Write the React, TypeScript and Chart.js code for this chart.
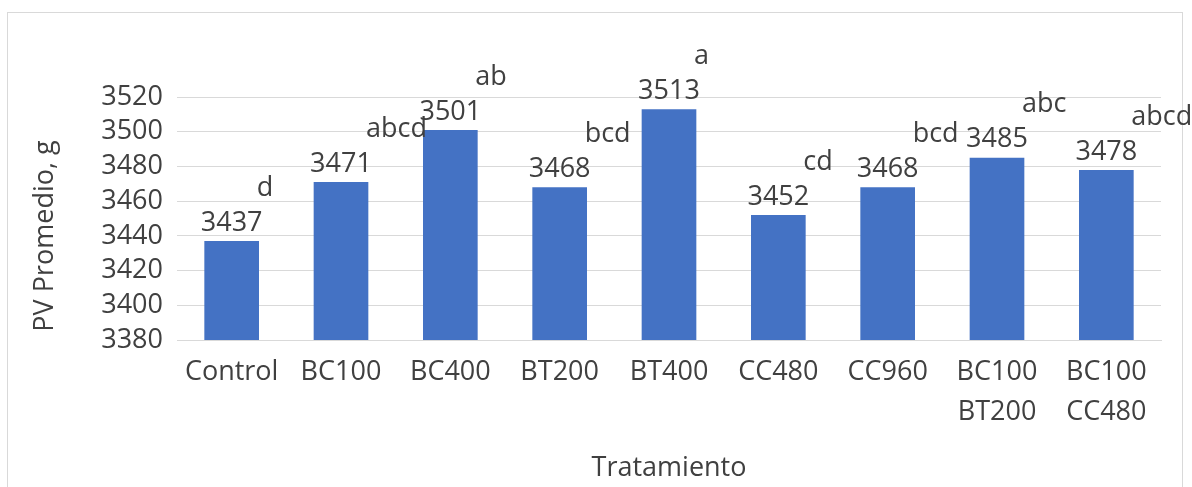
import React, { useEffect, useRef } from "react";
import { Chart, registerables } from "chart.js";

Chart.register(...registerables);

const categories: (string | string[])[] = [
  "Control",
  "BC100",
  "BC400",
  "BT200",
  "BT400",
  "CC480",
  "CC960",
  ["BC100", "BT200"],
  ["BC100", "CC480"],
];
const values: number[] = [3437, 3471, 3501, 3468, 3513, 3452, 3468, 3485, 3478];
const letters: string[] = ["d", "abcd", "ab", "bcd", "a", "cd", "bcd", "abc", "abcd"];
const yTickLabels: number[] = [3380, 3400, 3420, 3440, 3460, 3480, 3500, 3520];
const yTitle = "PV Promedio, g";
const xTitle = "Tratamiento";

const FONT = "'Open Sans', sans-serif";
const TEXT = "#404040";
const BAR = "#4472C4";
const GRID = "#d9d9d9";

const decorPlugin = {
  id: "decor",
  beforeDraw(chart: any) {
    const ctx = chart.ctx;
    ctx.save();
    ctx.fillStyle = "#ffffff";
    ctx.fillRect(0, 0, chart.width, chart.height);
    ctx.strokeStyle = GRID;
    ctx.lineWidth = 1;
    ctx.strokeRect(7.5, 12.5, 1175, 600);
    ctx.restore();
  },
  afterDatasetsDraw(chart: any) {
    const ctx = chart.ctx;
    const meta = chart.getDatasetMeta(0);
    ctx.save();
    ctx.fillStyle = TEXT;
    ctx.font = `27px ${FONT}`;
    ctx.textBaseline = "middle";
    meta.data.forEach((bar: any, i: number) => {
      ctx.textAlign = "center";
      ctx.fillText(String(values[i]), bar.x, bar.y - 18);
      ctx.textAlign = "left";
      ctx.fillText(letters[i], bar.x + 25, bar.y - 53);
    });
    const ca = chart.chartArea;
    ctx.textAlign = "center";
    ctx.fillText(xTitle, (ca.left + ca.right) / 2, 468);
    ctx.translate(45, 236);
    ctx.rotate(-Math.PI / 2);
    ctx.fillText(yTitle, 0, 0);
    ctx.restore();
  },
};

export default function App() {
  const ref = useRef<HTMLCanvasElement>(null);
  useEffect(() => {
    document.body.style.margin = "0";
    const chart = new Chart(ref.current as HTMLCanvasElement, {
      type: "bar",
      data: {
        labels: categories,
        datasets: [
          {
            data: values,
            backgroundColor: BAR,
            borderWidth: 0,
            barPercentage: 0.5,
            categoryPercentage: 1,
          },
        ],
      },
      options: {
        animation: false,
        responsive: false,
        devicePixelRatio: 1,
        layout: { padding: { top: 97, right: 31, bottom: 0, left: 0 } },
        plugins: {
          legend: { display: false },
          tooltip: { enabled: false },
          title: { display: false },
        },
        scales: {
          x: {
            afterFit(scale: any) {
              scale.height = 147;
            },
            grid: { display: false, drawTicks: false },
            border: { display: true, color: GRID, width: 1 },
            ticks: {
              color: TEXT,
              font: { family: FONT, size: 27, lineHeight: 1.5 },
              padding: 12,
              maxRotation: 0,
              autoSkip: false,
            },
          },
          y: {
            min: yTickLabels[0],
            max: yTickLabels[yTickLabels.length - 1],
            afterFit(scale: any) {
              scale.width = 177;
            },
            afterBuildTicks(scale: any) {
              scale.ticks = yTickLabels.map((v) => ({ value: v }));
            },
            grid: { color: GRID, lineWidth: 1, drawTicks: false },
            border: { display: false },
            ticks: {
              autoSkip: false,
              color: TEXT,
              font: { family: FONT, size: 27 },
              padding: 14,
              callback: (v: any) => String(v),
            },
          },
        },
      },
      plugins: [decorPlugin],
    });
    return () => chart.destroy();
  }, []);
  return (
    <div style={{ width: 1192, height: 487, overflow: "hidden" }}>
      <canvas ref={ref} width={1192} height={487} style={{ display: "block" }} />
    </div>
  );
}
